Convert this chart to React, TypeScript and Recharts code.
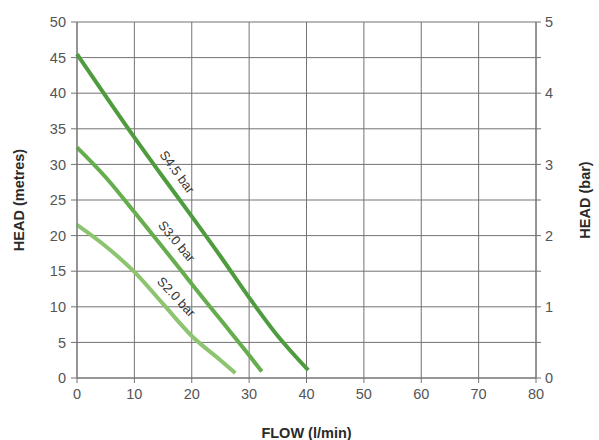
import React from "react";
import {
  CartesianGrid,
  Label,
  Line,
  LineChart,
  XAxis,
  YAxis,
} from "recharts";

// flow (l/min) -> head (metres)
const s45Flow = [0, 5, 10, 15, 20, 25, 30, 35, 40.3];
const s45Head = [45.5, 39.6, 33.8, 28.2, 22.7, 17.1, 11.3, 5.9, 1.1];

const s30Flow = [0, 5, 10, 15, 20, 25, 30, 32.2];
const s30Head = [32.4, 28.2, 23.3, 18.3, 13.2, 8.2, 3.2, 0.9];

const s20Flow = [0, 5, 10, 15, 20, 25, 27.6];
const s20Head = [21.5, 18.5, 14.9, 10.4, 5.9, 2.5, 0.7];

const flowTicks = [0, 10, 20, 30, 40, 50, 60, 70, 80];
const metreTicks = [0, 5, 10, 15, 20, 25, 30, 35, 40, 45, 50];
const barTicks = [0, 0.5, 1, 1.5, 2, 2.5, 3, 3.5, 4, 4.5, 5];

const toRows = (flow: number[], head: number[]) =>
  flow.map((x, i) => ({ x, head: head[i], bar: head[i] / 10 }));

const curves = [
  { name: "S4.5 bar", rows: toRows(s45Flow, s45Head), color: "#4f9c3f", angle: 54, at: 3 },
  { name: "S3.0 bar", rows: toRows(s30Flow, s30Head), color: "#66ad4e", angle: 50, at: 3 },
  { name: "S2.0 bar", rows: toRows(s20Flow, s20Head), color: "#8cc46f", angle: 47, at: 3 },
];

const font = "'Liberation Sans', Arial, sans-serif";
const gridColor = "#737373";
const tickStyle = { fill: "#555", fontSize: 14.5, fontFamily: font };
const titleStyle = {
  fill: "#2a2a2a",
  fontSize: 14.5,
  fontWeight: 700,
  fontFamily: font,
  textAnchor: "middle" as const,
};

function curveLabel(text: string, angle: number, at: number) {
  return (props: any) => {
    if (props.index !== at) return null;
    return (
      <g transform={`translate(${props.x},${props.y}) rotate(${angle})`}>
        <text
          x={4}
          y={-10}
          textAnchor="middle"
          fill="#333"
          fontSize={13}
          fontFamily={font}
        >
          {text}
        </text>
      </g>
    );
  };
}

export default function App() {
  return (
    <div style={{ position: "absolute", left: 0, top: 0, background: "#fff" }}>
      <LineChart
        width={599}
        height={440}
        margin={{ top: 22, right: 0, bottom: 0, left: 0 }}
      >
        <CartesianGrid stroke={gridColor} strokeWidth={1} yAxisId="m" />
        <XAxis
          type="number"
          dataKey="x"
          domain={[0, 80]}
          ticks={flowTicks}
          height={62}
          tick={tickStyle}
          tickSize={5}
          tickMargin={6}
          axisLine={{ stroke: gridColor }}
          tickLine={{ stroke: gridColor }}
          allowDuplicatedCategory={false}
        >
          <Label value="FLOW (l/min)" position="insideBottom" offset={2} style={titleStyle} />
        </XAxis>
        <YAxis
          yAxisId="m"
          type="number"
          domain={[0, 50]}
          ticks={metreTicks}
          width={77}
          tick={tickStyle}
          tickSize={6}
          tickMargin={5}
          axisLine={{ stroke: gridColor }}
          tickLine={{ stroke: gridColor }}
        >
          <Label value="HEAD (metres)" angle={-90} position="insideLeft" offset={19} style={titleStyle} />
        </YAxis>
        <YAxis
          yAxisId="bar"
          orientation="right"
          type="number"
          domain={[0, 5]}
          ticks={barTicks}
          width={63}
          tick={tickStyle}
          tickFormatter={(v: number) => (Number.isInteger(v) ? String(v) : "")}
          tickSize={5}
          tickMargin={4}
          axisLine={{ stroke: gridColor }}
          tickLine={{ stroke: gridColor }}
        >
          <Label value="HEAD (bar)" angle={-90} position="insideRight" offset={14} style={titleStyle} />
        </YAxis>
        {/* same curve in bar units, only to drive the right-hand axis */}
        <Line
          yAxisId="bar"
          data={curves[0].rows}
          dataKey="bar"
          stroke="none"
          dot={false}
          activeDot={false}
          isAnimationActive={false}
        />
        {curves.map((c) => (
          <Line
            key={c.name}
            yAxisId="m"
            data={c.rows}
            dataKey="head"
            type="monotone"
            stroke={c.color}
            strokeWidth={4}
            dot={false}
            activeDot={false}
            isAnimationActive={false}
            label={curveLabel(c.name, c.angle, c.at)}
          />
        ))}
      </LineChart>
    </div>
  );
}
